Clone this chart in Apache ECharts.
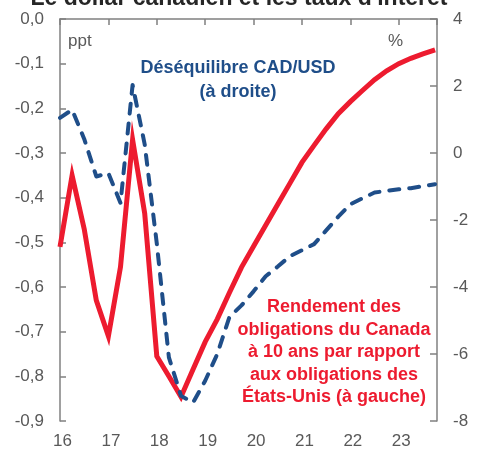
<!DOCTYPE html>
<html>
<head>
<meta charset="utf-8">
<title>Le dollar canadien et les taux d'intérêt</title>
<script src="https://cdn.jsdelivr.net/npm/echarts@6/dist/echarts.min.js"></script>
<style>
  html, body { margin: 0; padding: 0; background: #fff; }
  #chart { width: 478px; height: 450px; }
</style>
</head>
<body>
<div id="chart"></div>
<script>
  // trimestres (année décimale)
  const quarters = [
    16, 16.25, 16.5, 16.75, 17, 17.25, 17.5, 17.75,
    18, 18.25, 18.5, 18.75, 19, 19.25, 19.5, 19.75,
    20, 20.25, 20.5, 20.75, 21, 21.25, 21.5, 21.75,
    22, 22.25, 22.5, 22.75, 23, 23.25, 23.5, 23.75
  ]
  // écart de rendement 10 ans Canada - É.-U. (ppt, axe de gauche)
  const spread10y = [
    -0.51, -0.35, -0.47, -0.63, -0.71, -0.555, -0.27, -0.435,
    -0.755, -0.80, -0.846, -0.784, -0.723, -0.672, -0.613, -0.556,
    -0.509, -0.462, -0.415, -0.368, -0.321, -0.283, -0.246, -0.212,
    -0.185, -0.16, -0.136, -0.116, -0.10, -0.088, -0.078, -0.069
  ]
  // déséquilibre CAD/USD (%, axe de droite)
  const cadUsdGap = [
    1.05, 1.29, 0.42, -0.70, -0.60, -1.49, 2.03, 0.26,
    -2.7, -6.1, -7.25, -7.45, -6.8, -6.0, -4.9, -4.55,
    -4.13, -3.68, -3.39, -3.08, -2.90, -2.72, -2.31, -1.90,
    -1.53, -1.35, -1.18, -1.13, -1.085, -1.05, -0.99, -0.93
  ]
  const yearTicks = [16, 17, 18, 19, 20, 21, 22, 23]

  const RED = '#ED1B2F'
  const BLUE = '#1F4E89'
  const GREY = '#595959'
  const AXIS = '#808080'
  const FONT = '"Liberation Sans", Arial, sans-serif'

  const chartInstance = echarts.init(document.getElementById('chart'), null, { renderer: 'canvas' })

  const xCommon = {
    type: 'value',
    min: 16,
    max: 23.79,
    interval: 1,
    splitLine: { show: false }
  }

  const option = {
    animation: false,
    backgroundColor: '#fff',
    title: {
      text: "Le dollar canadien et les taux d'intérêt",
      left: 'center',
      top: -18,
      textStyle: { fontFamily: FONT, fontSize: 23, fontWeight: 'bold', color: '#262626' }
    },
    grid: { left: 60, right: 41, top: 19, bottom: 28, containLabel: false },
    xAxis: [
      {
        ...xCommon,
        position: 'top',
        axisLine: { show: true, lineStyle: { color: AXIS, width: 1.5 } },
        axisTick: { show: true, inside: true, length: 6, lineStyle: { color: AXIS, width: 1.5 } },
        axisLabel: { show: false }
      },
      {
        ...xCommon,
        position: 'bottom',
        axisLine: { show: false },
        axisTick: { show: false },
        axisLabel: {
          color: GREY,
          fontFamily: FONT,
          fontSize: 17,
          margin: 12,
          padding: [0, 0, 0, 5],
          formatter: v => (yearTicks.indexOf(v) >= 0 ? String(v) : '')
        }
      }
    ],
    yAxis: [
      {
        type: 'value',
        position: 'left',
        min: -0.9,
        max: 0,
        interval: 0.1,
        splitLine: { show: false },
        axisLine: { show: true, lineStyle: { color: AXIS, width: 1.5 } },
        axisTick: { show: true, inside: true, length: 6, lineStyle: { color: AXIS, width: 1.5 } },
        axisLabel: {
          color: GREY,
          fontFamily: FONT,
          fontSize: 17,
          margin: 16,
          formatter: v => v.toFixed(1).replace('.', ',')
        }
      },
      {
        type: 'value',
        position: 'right',
        min: -8,
        max: 4,
        interval: 2,
        splitLine: { show: false },
        axisLine: { show: true, lineStyle: { color: AXIS, width: 1.5 } },
        axisTick: { show: true, inside: true, length: 7, lineStyle: { color: AXIS, width: 1.5 } },
        axisLabel: { color: GREY, fontFamily: FONT, fontSize: 17, margin: 16 }
      }
    ],
    series: [
      {
        name: 'Rendement 10 ans CA - É.-U.',
        type: 'line',
        xAxisIndex: 0,
        yAxisIndex: 0,
        data: quarters.map((q, i) => [q, spread10y[i]]),
        showSymbol: false,
        lineStyle: { color: RED, width: 5, join: 'miter' },
        z: 2
      },
      {
        name: 'Déséquilibre CAD/USD',
        type: 'line',
        xAxisIndex: 0,
        yAxisIndex: 1,
        data: quarters.map((q, i) => [q, cadUsdGap[i]]),
        showSymbol: false,
        lineStyle: { color: BLUE, width: 4, type: [10, 10], cap: 'round', join: 'round' },
        z: 3
      }
    ],
    graphic: [
      {
        type: 'text', left: 68, top: 33,
        style: { text: 'ppt', fill: GREY, font: '17px ' + FONT }
      },
      {
        type: 'text', left: 388, top: 33,
        style: { text: '%', fill: GREY, font: '17px ' + FONT }
      },
      {
        type: 'text', x: 238, y: 56,
        style: {
          text: 'Déséquilibre CAD/USD\n(à droite)',
          fill: BLUE, font: 'bold 18px ' + FONT,
          align: 'center', verticalAlign: 'top', lineHeight: 24
        }
      },
      {
        type: 'text', x: 334, y: 296,
        style: {
          text: 'Rendement des\nobligations du Canada\nà 10 ans par rapport\naux obligations des\nÉtats-Unis (à gauche)',
          fill: RED, font: 'bold 18px ' + FONT,
          align: 'center', verticalAlign: 'top', lineHeight: 22.5
        }
      }
    ]
  }

  chartInstance.setOption(option)
</script>
</body>
</html>
